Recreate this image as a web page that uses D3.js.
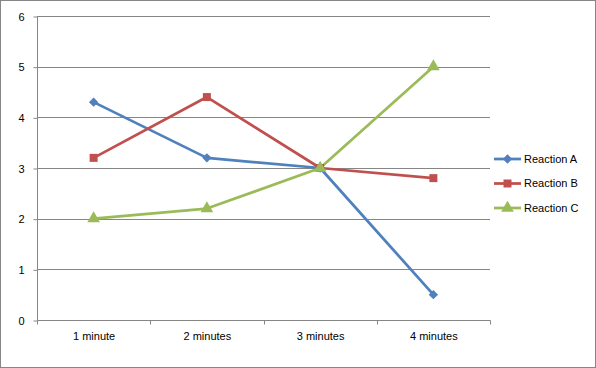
<!DOCTYPE html>
<html><head><meta charset="utf-8">
<script src="https://cdn.jsdelivr.net/npm/d3@7"></script>
<style>body{margin:0;background:#fff}svg{display:block}text{font-family:"Liberation Sans",Arial,sans-serif;fill:#000}</style>
</head><body><svg id="c" width="596" height="368"></svg>
<script>
const categories = ["1 minute","2 minutes","3 minutes","4 minutes"];
const seriesNames = ["Reaction A","Reaction B","Reaction C"];
const reactionA = [4.3, 3.2, 3.0, 0.5];
const reactionB = [3.2, 4.4, 3.0, 2.8];
const reactionC = [2.0, 2.2, 3.0, 5.0];
const yTicks = [0,1,2,3,4,5,6];
const colors = ["#4F81BD","#C0504D","#9BBB59"];
const symbols = [d3.symbolDiamond2, d3.symbolSquare, d3.symbolTriangle];
const symSizes = [56, 64, 70];
const allSeries = [reactionA, reactionB, reactionC];

const svg = d3.select("#c");
svg.append("rect").attr("x",0.5).attr("y",0.5).attr("width",595).attr("height",367).attr("fill","#fff").attr("stroke","#868686");

const L=37, R=490, T=16, B=320;
const x = d3.scaleBand().domain(categories).range([L,R]);
const y = d3.scaleLinear().domain([0,6]).range([B,T]);

// gridlines
svg.append("g").selectAll("line").data(yTicks.filter(d=>d>0)).join("line")
  .attr("x1",L).attr("x2",R).attr("y1",d=>Math.round(y(d))+0.5).attr("y2",d=>Math.round(y(d))+0.5)
  .attr("stroke","#868686").attr("stroke-width",1);

// y axis
const ya = svg.append("g").attr("transform",`translate(${L+0.5},0.5)`)
  .call(d3.axisLeft(y).tickValues(yTicks).tickSize(4).tickPadding(9).tickFormat(d3.format("d")));
ya.select(".domain").attr("stroke","#868686").attr("d",`M0,${T}V${B}`);
ya.selectAll(".tick line").attr("stroke","#868686");
ya.selectAll("text").style("font-size","11px");

// x axis
const xa = svg.append("g").attr("transform",`translate(0.5,${B+0.5})`)
  .call(d3.axisBottom(x).tickSize(0).tickPadding(12));
xa.select(".domain").attr("stroke","#868686").attr("d",`M${L},0H${R}`);
xa.selectAll("text").style("font-size","11px");
const bounds = [...categories.map(c=>x(c)), R];
xa.append("g").selectAll("line").data(bounds).join("line")
  .attr("x1",d=>Math.round(d)).attr("x2",d=>Math.round(d)).attr("y1",0).attr("y2",4).attr("stroke","#868686");

const cx = c => x(c) + x.bandwidth()/2;
const line = d3.line().x((d,i)=>cx(categories[i])).y(d=>y(d));

allSeries.forEach((s,k)=>{
  svg.append("path").datum(s).attr("d",line).attr("fill","none")
    .attr("stroke",colors[k]).attr("stroke-width",2.75).attr("stroke-linejoin","round");
});
allSeries.forEach((s,k)=>{
  svg.append("g").selectAll("path").data(s).join("path")
    .attr("d",d3.symbol().type(symbols[k]).size(symSizes[k]))
    .attr("transform",(d,i)=>`translate(${cx(categories[i])},${y(d)})`)
    .attr("fill",colors[k]);
});

// legend
const lg = svg.append("g");
seriesNames.forEach((n,k)=>{
  const yy = 159 + k*24.5;
  lg.append("line").attr("x1",494).attr("x2",521).attr("y1",yy).attr("y2",yy).attr("stroke",colors[k]).attr("stroke-width",2.75);
  lg.append("path").attr("d",d3.symbol().type(symbols[k]).size(symSizes[k])).attr("transform",`translate(507.5,${yy})`).attr("fill",colors[k]);
  lg.append("text").attr("x",524).attr("y",yy).attr("dy","0.35em").style("font-size","11px").text(n);
});
</script></body></html>
